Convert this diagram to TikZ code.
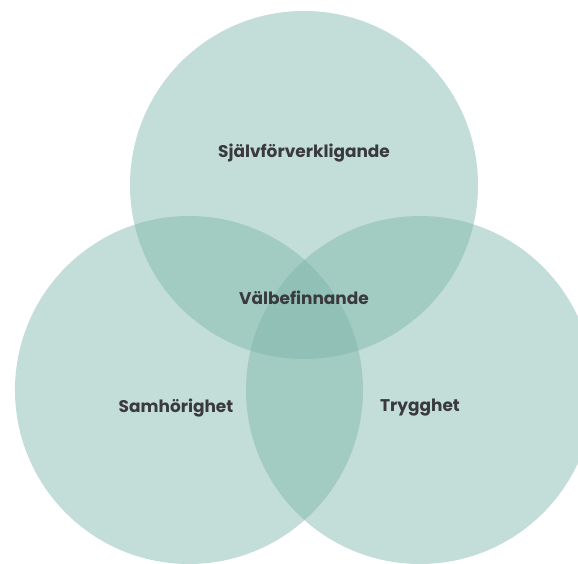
\documentclass[tikz,border=0pt]{standalone}
\usepackage{fontspec}
\setmainfont{Poppins}
\usepackage{tikz}
\usetikzlibrary{calc}
\definecolor{venn}{RGB}{122,180,168}
\definecolor{labeltext}{RGB}{58,58,60}

\begin{document}
\begin{tikzpicture}[x=1bp,y=1bp,
    area/.style={fill=venn,fill opacity=0.45},
    lbl/.style={text=labeltext,font=\fontsize{17}{19}\selectfont\bfseries}]
          \useasboundingbox (0,0) rectangle (578,564);
          \fill[area] (304,379) circle (174);
          \fill[area] (189,174) circle (174);
          \fill[area] (420,174) circle (174);
          \node[lbl] (top) at (304,411) {Självförverkligande};
          \node[lbl] (mid) at (304,266) {Välbefinnande};
          \node[lbl] (left) at (176,156) {Samhörighet};
          \node[lbl] (right) at (420,156) {Trygghet};
        \end{tikzpicture}
\end{document}
